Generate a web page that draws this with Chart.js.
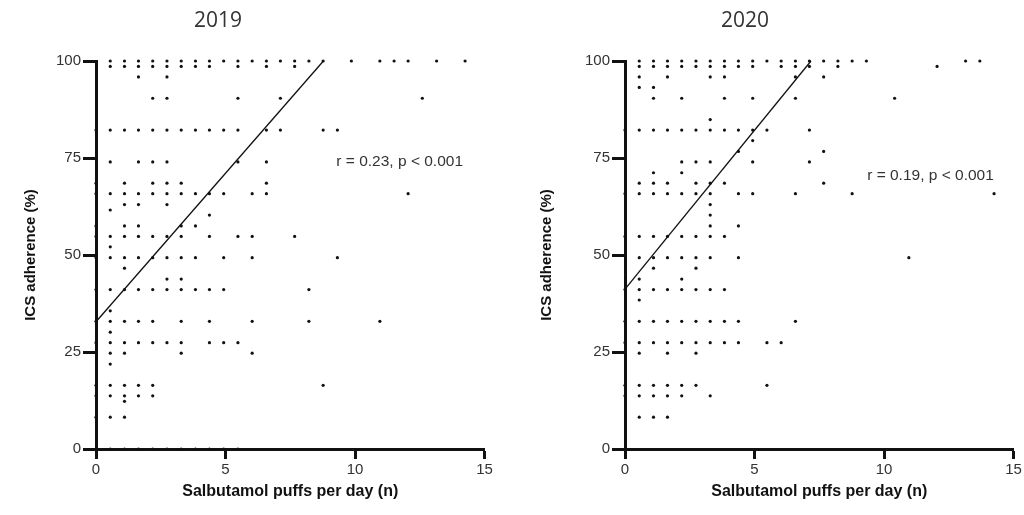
<!DOCTYPE html>
<html>
<head>
<meta charset="utf-8">
<script src="https://cdn.jsdelivr.net/npm/chart.js@4.4.1/dist/chart.umd.min.js"></script>
<style>
  body { margin: 0; background: #fff; }
  #wrap { position: relative; width: 1024px; height: 515px; }
  canvas { position: absolute; top: 0; }
</style>
</head>
<body>
<div id="wrap">
  <canvas id="chart2019" width="512" height="515" style="left:0"></canvas>
  <canvas id="chart2020" width="512" height="515" style="left:512px"></canvas>
</div>
<script>
// x values a dot can sit on (salbutamol puffs per day)
const puffSteps = [0, 0.55, 1.10, 1.64, 2.19, 2.74, 3.29, 3.84, 4.38, 4.93, 5.48, 6.03, 6.58, 7.12,
  7.67, 8.22, 8.77, 9.32, 9.86, 10.41, 10.96, 11.51, 12.05, 12.60, 13.15, 13.70, 14.25];

const xTicks = [0, 5, 10, 15];
const yTicks = [0, 25, 50, 75, 100];

// [ICS adherence %, indexes into puffSteps]
const rows2019 = [
  [100,  [1, 2, 3, 4, 5, 6, 7, 8, 9, 10, 11, 12, 13, 14, 15, 16, 18, 20, 21, 22, 24, 26]],
  [98.6, [1, 2, 3, 4, 5, 6, 7, 8, 10, 12, 14]],
  [95.9, [3, 5]],
  [90.4, [4, 5, 10, 13, 23]],
  [82.2, [0, 1, 2, 3, 4, 5, 6, 7, 8, 9, 10, 12, 13, 16, 17]],
  [74.0, [1, 3, 4, 5, 10, 12]],
  [68.5, [0, 2, 4, 5, 6, 12]],
  [65.8, [0, 1, 2, 3, 4, 5, 6, 7, 8, 9, 11, 12, 22]],
  [63.0, [2, 3, 5]],
  [61.6, [1]],
  [60.3, [8]],
  [57.5, [0, 2, 3, 6, 7]],
  [54.8, [0, 1, 2, 3, 4, 5, 6, 8, 10, 11, 14]],
  [52.1, [1]],
  [49.3, [0, 1, 2, 3, 4, 5, 6, 7, 9, 11, 17]],
  [46.6, [2]],
  [43.8, [5, 6]],
  [41.1, [0, 1, 2, 3, 4, 5, 6, 7, 8, 9, 15]],
  [35.6, [1]],
  [32.9, [0, 1, 2, 3, 4, 6, 8, 11, 15, 20]],
  [30.1, [1]],
  [27.4, [0, 1, 2, 3, 4, 5, 6, 8, 9, 10]],
  [24.7, [1, 2, 6, 11]],
  [21.9, [1]],
  [16.4, [0, 1, 2, 3, 4, 16]],
  [13.7, [0, 1, 2, 3, 4]],
  [12.3, [2]],
  [8.2,  [0, 1, 2]],
  [0,    [0, 1, 2, 3, 4, 5, 6, 7, 8, 9, 10]]
];

const rows2020 = [
  [100,  [1, 2, 3, 4, 5, 6, 7, 8, 9, 10, 11, 12, 13, 14, 15, 16, 17, 24, 25]],
  [98.6, [1, 2, 3, 4, 5, 6, 7, 8, 9, 11, 12, 13, 15, 22]],
  [95.9, [1, 3, 6, 7, 12, 14]],
  [93.2, [1, 2]],
  [90.4, [2, 4, 7, 9, 12, 19]],
  [84.9, [6]],
  [82.2, [0, 1, 2, 3, 4, 5, 6, 7, 8, 9, 10, 13]],
  [79.5, [9]],
  [76.7, [8, 14]],
  [74.0, [4, 5, 6, 9, 13]],
  [71.2, [2, 4]],
  [68.5, [1, 2, 3, 5, 6, 7, 14]],
  [65.8, [0, 1, 2, 3, 4, 5, 6, 8, 9, 12, 16, 26]],
  [63.0, [6]],
  [60.3, [6]],
  [57.5, [6, 8]],
  [54.8, [0, 1, 2, 3, 4, 5, 6, 7]],
  [49.3, [1, 2, 3, 4, 5, 6, 8, 20]],
  [46.6, [2, 5]],
  [43.8, [1, 4]],
  [41.1, [0, 1, 2, 3, 4, 5, 6, 7]],
  [38.4, [1]],
  [32.9, [0, 1, 2, 3, 4, 5, 6, 7, 8, 12]],
  [27.4, [0, 1, 2, 3, 4, 5, 6, 7, 8, 10, 11]],
  [24.7, [1, 3, 5]],
  [16.4, [0, 1, 2, 3, 4, 5, 10]],
  [13.7, [0, 1, 2, 3, 4, 6]],
  [8.2,  [1, 2, 3]]
];

// regression lines
const fit2019 = [{ x: 0, y: 32.8 }, { x: 8.78, y: 100 }];
const fit2020 = [{ x: 0, y: 41.2 }, { x: 7.18, y: 100 }];

const stat2019 = 'r = 0.23, p < 0.001';
const stat2020 = 'r = 0.19, p < 0.001';

Chart.defaults.font.family = '"Liberation Sans", Arial, sans-serif';

// year heading + r/p note
const panelText = {
  id: 'panelText',
  afterDraw(chart, args, opts) {
    const { ctx, scales: { x, y } } = chart;
    ctx.save();
    ctx.fillStyle = '#333';
    ctx.font = '15.5px "Liberation Sans", Arial, sans-serif';
    ctx.textBaseline = 'middle';
    ctx.textAlign = 'left';
    ctx.fillText(opts.stat, x.getPixelForValue(opts.statAt[0]), y.getPixelForValue(opts.statAt[1]));
    ctx.font = '21px "Open Sans", sans-serif';
    ctx.textAlign = 'center';
    ctx.fillText(opts.year, opts.yearX, 21);
    ctx.restore();
  }
};

function buildChart(id, rows, fit, year, stat, look) {
  const points = [];
  rows.forEach(([adh, cols]) => {
    cols.forEach(c => points.push({ x: puffSteps[c], y: adh }));
  });

  return new Chart(document.getElementById(id), {
    type: 'scatter',
    data: {
      datasets: [
        { data: points, pointRadius: 1.6, pointBackgroundColor: '#111', pointBorderWidth: 0, clip: false },
        { data: fit, showLine: true, pointRadius: 0, borderColor: '#111', borderWidth: 1.3, clip: false }
      ]
    },
    options: {
      responsive: false,
      animation: false,
      layout: { padding: { top: 61, bottom: 14, left: 0, right: look.padRight } },
      plugins: {
        legend: { display: false },
        tooltip: { enabled: false },
        panelText: { year, stat, statAt: look.statAt, yearX: look.yearX }
      },
      scales: {
        x: {
          type: 'linear', min: 0, max: 15,
          afterBuildTicks: s => { s.ticks = xTicks.map(v => ({ value: v })); },
          afterFit: s => { s.height = 52; },
          border: { display: true, color: '#111', width: 3 },
          grid: { drawOnChartArea: false, drawTicks: true, tickLength: 10, tickWidth: 3, tickColor: '#111' },
          ticks: { color: '#333', font: { size: 15 }, padding: 2, maxRotation: 0 },
          title: { display: true, text: 'Salbutamol puffs per day (n)', color: '#111',
                   font: { size: 16, weight: 'bold' }, padding: 0 }
        },
        y: {
          type: 'linear', min: 0, max: 100,
          afterBuildTicks: s => { s.ticks = yTicks.map(v => ({ value: v })); },
          afterFit: s => { s.width = look.yWidth; },
          border: { display: true, color: '#111', width: 3 },
          grid: { drawOnChartArea: false, drawTicks: true, tickLength: 13, tickWidth: 3, tickColor: '#111' },
          ticks: { color: '#333', font: { size: 15 }, padding: 2 },
          title: { display: true, text: 'ICS adherence (%)', color: '#111',
                   font: { size: 15, weight: 'bold' }, padding: { top: look.titlePad, bottom: 0 } }
        }
      }
    },
    plugins: [panelText]
  });
}

buildChart('chart2019', rows2019, fit2019, '2019', stat2019,
  { yWidth: 96, padRight: 27.5, titlePad: 22, yearX: 218, statAt: [9.28, 74] });
buildChart('chart2020', rows2020, fit2020, '2020', stat2020,
  { yWidth: 113, padRight: 10.5, titlePad: 26, yearX: 233, statAt: [9.35, 70.4] });
</script>
</body>
</html>
